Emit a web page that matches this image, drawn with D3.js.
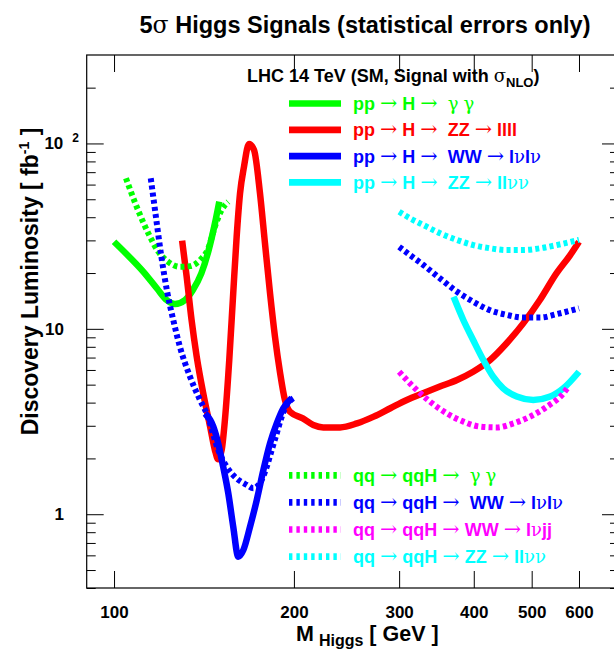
<!DOCTYPE html>
<html>
<head>
<meta charset="utf-8">
<script src="https://cdn.jsdelivr.net/npm/d3@7"></script>
<style>
  body { margin: 0; background: #fff; }
  svg { display: block; font-family: "Liberation Sans", Arial, sans-serif; }
  text { white-space: pre; }
</style>
</head>
<body>
<svg id="chart" width="614" height="650"></svg>
<script>
// 5σ discovery luminosity (fb^-1) versus Higgs mass (GeV), LHC 14 TeV

// gluon fusion: pp → H → γγ
const massGG = [100, 106, 112, 118, 122.5, 126.5, 131.5, 135.5, 140, 144, 147.5, 150];
const lumiGG = [29.5, 24.5, 20.3, 16.5, 14.3, 13.6, 14.3, 16.2, 19.9, 26.6, 37, 48.5];

// gluon fusion: pp → H → ZZ → llll
const massZZ4l = [130, 132.3, 134.8, 137.5, 141, 144.8, 147.5, 149.4, 151.4, 153.3, 155.9, 158.3, 160.4,
  162.5, 165, 168.2, 171.5, 175.5, 178.9, 182.4, 185.9, 189.6, 193.2, 197, 207, 215.5, 224, 239, 255,
  272, 290, 309, 329, 351, 375, 399, 426, 454, 484, 516, 550, 580, 600];
const lumiZZ4l = [29.9, 19.1, 11.2, 7.1, 4.5, 2.97, 2.22, 1.98, 2.22, 3.22, 6.8, 15.6, 31.4,
  53.8, 74.9, 99.3, 92.2, 53.8, 28.9, 15.6, 9.1, 5.8, 4.13, 3.57, 3.29, 3.03, 2.94, 2.94, 3.09,
  3.36, 3.73, 4.13, 4.49, 4.88, 5.30, 5.87, 6.79, 8.36, 10.7, 14.3, 19.9, 25.0, 29.5];

// gluon fusion: pp → H → WW → lνlν
const massWW = [142, 146.6, 149.4, 152.3, 155.3, 158.3, 161.4, 164.6, 168.9, 173.3, 177.8, 182.4, 187.2, 192, 198.3];
const lumiWW = [3.5, 2.97, 2.41, 1.80, 1.30, 0.857, 0.59, 0.641, 0.857, 1.19, 1.73, 2.41, 3.09, 3.73, 4.22];

// gluon fusion: pp → H → ZZ → llνν
const massZZ2l2v = [370, 384, 399, 415, 431, 448, 472, 503, 537, 565, 600];
const lumiZZ2l2v = [14.9, 11.2, 8.71, 6.79, 5.52, 4.78, 4.31, 4.13, 4.31, 4.78, 5.87];

// vector boson fusion: qq → qqH → γγ
const massVbfGG = [104.7, 109.1, 114.1, 118.6, 123.2, 128.9, 134, 139.3, 143.8, 147.5, 151.4, 155.3];
const lumiVbfGG = [64.9, 45.6, 32.8, 26.1, 23.0, 21.6, 21.8, 23.5, 27.2, 35.6, 43.8, 48.5];

// vector boson fusion: qq → qqH → WW → lνlν (low and high mass ranges)
const massVbfWWLow = [115.2, 117.6, 119.9, 122.7, 125.6, 128.9, 134, 139.3, 142.9, 149.4, 154.4, 160.4,
  166.7, 171, 176.6, 180.1, 183.6, 187.2, 190.8, 194.5, 199.5];
const lumiVbfWWLow = [64.9, 39.5, 25.0, 15.9, 11.2, 8.0, 5.52, 4.13, 3.5, 2.22, 1.80, 1.56,
  1.44, 1.38, 1.53, 1.80, 2.22, 2.73, 3.36, 3.88, 4.22];
const massVbfWWHigh = [300, 312.8, 329.4, 351.2, 374.6, 399.3, 425.8, 454.2, 484.2, 516.3, 550.4, 600];
const lumiVbfWWHigh = [27.7, 25.0, 22.1, 18.7, 15.9, 14.0, 12.6, 11.9, 11.5, 11.5, 12.0, 12.9];

// vector boson fusion: qq → qqH → WW → lνjj
const massVbfWWjj = [300, 316.8, 337.9, 360.5, 384.2, 409.7, 437, 465.8, 496.9, 530, 565, 576];
const lumiVbfWWjj = [5.87, 4.88, 4.05, 3.5, 3.16, 2.97, 2.94, 3.09, 3.36, 3.8, 4.49, 4.88];

// vector boson fusion: qq → qqH → ZZ → llνν
const massVbfZZ = [300, 312.8, 329.4, 351.2, 374.6, 399.3, 425.8, 454.2, 484.2, 516.3, 550.4, 600];
const lumiVbfZZ = [42.8, 39.5, 36.3, 32.8, 30.2, 28.3, 27.2, 26.6, 26.6, 27.2, 28.3, 30.2];

// axis ticks and labels
const xTicks = [100, 200, 300, 400, 500, 600];
const yMajorTicks = [1, 10, 100];
const yMinorTicks = [0.4, 0.5, 0.6, 0.7, 0.8, 0.9, 2, 3, 4, 5, 6, 7, 8, 9,
  20, 30, 40, 50, 60, 70, 80, 90, 200];

const titleText = "5σ Higgs Signals (statistical errors only)";
const headerText = "LHC 14 TeV (SM, Signal with σ";
const headerSub = "NLO";
const xTitle = "M";
const xTitleSub = "Higgs";
const xTitleUnit = " [ GeV ]";
const yTitle = "Discovery Luminosity [ fb";
const yTitleSup = "-1";
const yTitleEnd = " ]";

const ggLabels = ["pp → H →  γ γ", "pp → H →  ZZ → llll", "pp → H →  WW → lνlν", "pp → H →  ZZ → llνν"];
const vbfLabels = ["qq → qqH →  γ γ", "qq → qqH →  WW → lνlν", "qq → qqH → WW → lνjj", "qq → qqH → ZZ → llνν"];

const GREEN = "#00ff00", RED = "#ff0000", BLUE = "#0000ff", CYAN = "#00ffff", MAGENTA = "#ff00ff";

const zip = (ms, ls) => ms.map((m, i) => ({ m, l: ls[i] }));

const solidSeries = [
  { pts: zip(massGG, lumiGG), color: GREEN },
  { pts: zip(massZZ4l, lumiZZ4l), color: RED },
  { pts: zip(massWW, lumiWW), color: BLUE },
  { pts: zip(massZZ2l2v, lumiZZ2l2v), color: CYAN }
];
const dottedSeries = [
  { pts: zip(massVbfGG, lumiVbfGG), color: GREEN },
  { pts: zip(massVbfWWLow, lumiVbfWWLow), color: BLUE },
  { pts: zip(massVbfWWHigh, lumiVbfWWHigh), color: BLUE },
  { pts: zip(massVbfWWjj, lumiVbfWWjj), color: MAGENTA },
  { pts: zip(massVbfZZ, lumiVbfZZ), color: CYAN }
];
const ggColors = [GREEN, RED, BLUE, CYAN];
const vbfColors = [GREEN, BLUE, MAGENTA, CYAN];

// ---- layout ----
const plot = { left: 86.7, right: 619, top: 55, bottom: 588 };
const svg = d3.select("#chart");

const x = d3.scaleLog().domain([90, 700]).range([plot.left, plot.right]);
const y = d3.scaleLog().domain([0.4, 300]).range([plot.bottom, plot.top]);

svg.append("defs").append("clipPath").attr("id", "plotClip")
  .append("rect")
  .attr("x", plot.left).attr("y", plot.top)
  .attr("width", plot.right - plot.left).attr("height", plot.bottom - plot.top);

// ---- axes: ticks on all four sides, pointing inward ----
const tickFont = 17;
function styleAxis(g) {
  g.select(".domain").remove();
  g.selectAll(".tick line").attr("stroke", "#000").attr("stroke-width", 1);
  g.selectAll("text").attr("font-size", tickFont).attr("font-weight", "bold")
    .attr("font-family", "'Liberation Sans', Arial, sans-serif").attr("fill", "#000");
}

svg.append("g").attr("transform", `translate(0,${plot.bottom})`)
  .call(d3.axisBottom(x).tickValues(xTicks).tickFormat(d3.format("d")).tickSize(-17).tickPadding(18))
  .call(styleAxis);
svg.append("g").attr("transform", `translate(0,${plot.top})`)
  .call(d3.axisTop(x).tickValues(xTicks).tickFormat("").tickSize(-17))
  .call(styleAxis);

const yPad = plot.left - 64;
const yAxisG = svg.append("g").attr("transform", `translate(${plot.left},0)`)
  .call(d3.axisLeft(y).tickValues(yMajorTicks).tickFormat(d => d === 100 ? "10" : d3.format("d")(d))
    .tickSize(-17).tickPadding(yPad))
  .call(styleAxis);
// the hundred label is written as 10 with a raised exponent
yAxisG.selectAll(".tick").filter(d => d === 100).select("text")
  .attr("x", -yPad).attr("text-anchor", "end")
  .each(function () {
    const t = d3.select(this);
    t.text(null);
    t.append("tspan").text("10");
    t.append("tspan").attr("font-size", 12).attr("dx", 9).attr("dy", -7).text("2");
  })
  .attr("transform", "translate(15,0)");

svg.append("g").attr("transform", `translate(${plot.left},0)`)
  .call(d3.axisLeft(y).tickValues(yMinorTicks).tickFormat("").tickSize(-9))
  .call(styleAxis);
svg.append("g").attr("transform", `translate(${plot.right},0)`)
  .call(d3.axisRight(y).tickValues(yMajorTicks).tickFormat("").tickSize(-17))
  .call(styleAxis);
svg.append("g").attr("transform", `translate(${plot.right},0)`)
  .call(d3.axisRight(y).tickValues(yMinorTicks).tickFormat("").tickSize(-9))
  .call(styleAxis);

// frame
svg.append("rect")
  .attr("x", plot.left).attr("y", plot.top)
  .attr("width", plot.right - plot.left).attr("height", plot.bottom - plot.top)
  .attr("fill", "none").attr("stroke", "#000").attr("stroke-width", 1.2);

// ---- curves ----
const line = d3.line().x(d => x(d.m)).y(d => y(d.l)).curve(d3.curveMonotoneX);
const curves = svg.append("g").attr("clip-path", "url(#plotClip)");

const DASH = "4,3.2";
curves.selectAll("path.solid").data(solidSeries).join("path")
  .attr("class", "solid")
  .attr("d", d => line(d.pts))
  .attr("fill", "none").attr("stroke", d => d.color)
  .attr("stroke-width", 6.5).attr("stroke-linejoin", "round").attr("stroke-linecap", "butt");

curves.selectAll("path.dotted").data(dottedSeries).join("path")
  .attr("class", "dotted")
  .attr("d", d => line(d.pts))
  .attr("fill", "none").attr("stroke", d => d.color)
  .attr("stroke-width", 6).attr("stroke-dasharray", DASH).attr("stroke-linecap", "butt");

// ---- text helpers: Greek letters and arrows in a light serif face ----
const SYMBOLS = /[→γνσ]/;
function richText(sel, str) {
  str.match(/[→γνσ]+|[^→γνσ]+/g).forEach(p => {
    const sym = SYMBOLS.test(p);
    const ts = sel.append("tspan").text(p)
      .attr("font-weight", sym ? "normal" : "bold")
      .attr("font-family", sym ? "'DejaVu Serif', 'Liberation Serif', serif" : null);
    if (p.includes("→")) ts.attr("font-size", "1.15em");
  });
}

// ---- title ----
const titleEl = svg.append("text").attr("x", 365).attr("y", 33)
  .attr("text-anchor", "middle").attr("font-size", 23.5).attr("font-weight", "bold");
richText(titleEl, titleText);

// ---- header of the legend ----
const header = svg.append("text").attr("x", 247).attr("y", 82)
  .attr("font-size", 18).attr("font-weight", "bold");
richText(header, headerText);
header.append("tspan").attr("font-size", 13).attr("dy", 5).text(headerSub);
header.append("tspan").attr("dy", -5).text(")");

// ---- legends ----
function legend(labels, colors, y0, step, dashed) {
  const g = svg.append("g");
  labels.forEach((lab, i) => {
    const yy = y0 + i * step;
    g.append("line")
      .attr("x1", 289).attr("x2", 341).attr("y1", yy).attr("y2", yy)
      .attr("stroke", colors[i]).attr("stroke-width", 6.7)
      .attr("stroke-dasharray", dashed ? "3.4,4" : null);
    const t = g.append("text").attr("x", 353).attr("y", yy + 6.5)
      .attr("font-size", 18).attr("font-weight", "bold").attr("fill", colors[i]);
    richText(t, lab);
  });
}
legend(ggLabels, ggColors, 103.5, 26.3, false);
legend(vbfLabels, vbfColors, 475.3, 27.1, true);

// ---- axis titles ----
const xt = svg.append("text").attr("x", 296).attr("y", 641)
  .attr("font-size", 21.5).attr("font-weight", "bold");
xt.append("tspan").text(xTitle);
xt.append("tspan").attr("font-size", 16).attr("dx", 5).attr("dy", 5).text(xTitleSub);
xt.append("tspan").attr("dy", -5).text(xTitleUnit);

const yt = svg.append("text")
  .attr("transform", "translate(38,281.5) rotate(-90)")
  .attr("text-anchor", "middle").attr("font-size", 23).attr("font-weight", "bold");
yt.append("tspan").text(yTitle);
yt.append("tspan").attr("font-size", 14).attr("dy", -9).text(yTitleSup);
yt.append("tspan").attr("dy", 9).text(yTitleEnd);
</script>
</body>
</html>
